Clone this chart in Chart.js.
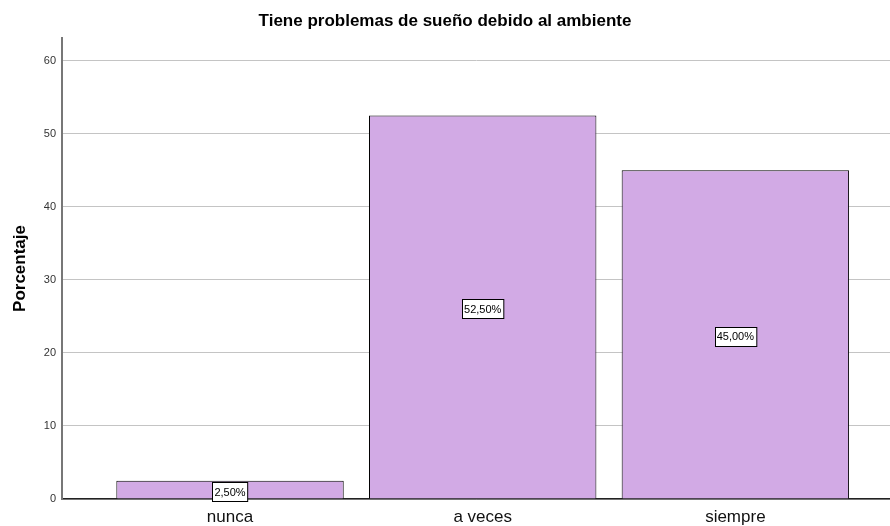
<!DOCTYPE html>
<html><head><meta charset="utf-8">
<script src="https://cdn.jsdelivr.net/npm/chart.js@4"></script>
<style>html,body{margin:0;padding:0;background:#fff}#wrap{width:890px;height:526px}</style>
</head><body><div id="wrap"><canvas id="c" width="890" height="526"></canvas></div>
<script>
const categories = ["nunca", "a veces", "siempre"];
const percentages = [2.5, 52.5, 45.0];
const pctLabels = ["2,50%", "52,50%", "45,00%"];
const yTicks = [0, 10, 20, 30, 40, 50, 60];

const FONT = "'Liberation Sans', Arial, sans-serif";

const labelPlugin = {
  id: 'boxLabels',
  afterDatasetsDraw(chart) {
    const ctx = chart.ctx;
    const meta = chart.getDatasetMeta(0);
    ctx.save();
    ctx.font = "11px " + FONT;
    meta.data.forEach((bar, i) => {
      const txt = pctLabels[i];
      const cy = (bar.y + bar.base) / 2 + 2;
      const w = ctx.measureText(txt).width + 4;
      const h = 19;
      const x0 = Math.round(bar.x - w / 2) + 0.5;
      const y0 = Math.round(cy - h / 2) + 0.5;
      ctx.fillStyle = '#fff';
      ctx.fillRect(x0, y0, w, h);
      ctx.strokeStyle = '#000';
      ctx.lineWidth = 1;
      ctx.strokeRect(x0, y0, w, h);
      ctx.fillStyle = '#000';
      ctx.textAlign = 'center';
      ctx.textBaseline = 'middle';
      ctx.fillText(txt, bar.x, cy + 1);
    });
    ctx.restore();
  }
};

new Chart(document.getElementById('c'), {
  type: 'bar',
  data: {
    datasets: [{
      data: categories.map((c, i) => ({ x: i, y: percentages[i] })),
      backgroundColor: '#D2AAE5',
      borderColor: '#000',
      borderWidth: 1,
      barPercentage: 0.9,
      categoryPercentage: 1.0
    }]
  },
  options: {
    responsive: false,
    animation: false,
    layout: { padding: { left: 0, right: 0, top: 0, bottom: 0 } },
    plugins: {
      legend: { display: false },
      tooltip: { enabled: false },
      title: {
        display: true,
        text: 'Tiene problemas de sueño debido al ambiente',
        color: '#000',
        font: { family: FONT, size: 17, weight: 'bold' },
        padding: { top: 11, bottom: 6.6 }
      }
    },
    scales: {
      x: {
        type: 'linear',
        offset: false,
        min: -0.665,
        max: 2.612,
        afterBuildTicks(axis) { axis.ticks = categories.map((c, i) => ({ value: i })); },
        afterFit(axis) { axis.height = 27; },
        ticks: {
          callback: (v) => categories[v] ?? '',
          color: '#111',
          font: { family: FONT, size: 17 },
          padding: 8,
          autoSkip: false,
          maxRotation: 0
        },
        grid: { display: false, drawTicks: false },
        border: { display: true, color: '#222', width: 1.5 }
      },
      y: {
        min: 0,
        max: 63.1,
        afterBuildTicks(axis) { axis.ticks = yTicks.map(v => ({ value: v })); },
        afterFit(axis) { axis.width = 62; },
        title: {
          display: true,
          text: 'Porcentaje',
          color: '#000',
          font: { family: FONT, size: 17, weight: 'bold' },
          padding: { top: 10, bottom: 0 }
        },
        ticks: {
          color: '#333',
          font: { family: FONT, size: 11 },
          padding: 6
        },
        grid: { color: '#c4c4c4', lineWidth: 1, drawTicks: false },
        border: { display: true, color: '#777', width: 2 }
      }
    }
  },
  plugins: [labelPlugin]
});
</script>
</body></html>
